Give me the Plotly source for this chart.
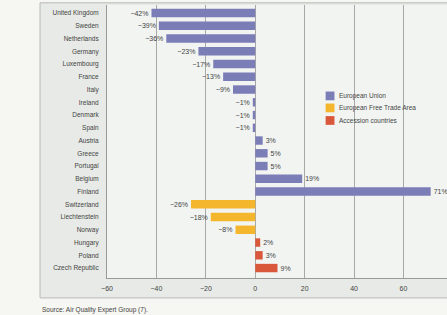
import plotly.graph_objects as go

categories = ["United Kingdom", "Sweden", "Netherlands", "Germany", "Luxembourg", "France",
              "Italy", "Ireland", "Denmark", "Spain", "Austria", "Greece", "Portugal",
              "Belgium", "Finland", "Switzerland", "Liechtenstein", "Norway", "Hungary",
              "Poland", "Czech Republic"]

eu_countries = categories[:15]
eu_values = [-42, -39, -36, -23, -17, -13, -9, -1, -1, -1, 3, 5, 5, 19, 71]
efta_countries = ["Switzerland", "Liechtenstein", "Norway"]
efta_values = [-26, -18, -8]
acc_countries = ["Hungary", "Poland", "Czech Republic"]
acc_values = [2, 3, 9]

x_ticks = [-60, -40, -20, 0, 20, 40, 60]

def lab(v):
    return ("\u2212%d%%" % abs(v)) if v < 0 else ("%d%%" % v)

fig = go.Figure()
series = [
    ("European Union", eu_countries, eu_values, "#7B7DB6"),
    ("European Free Trade Area", efta_countries, efta_values, "#F4B62C"),
    ("Accession countries", acc_countries, acc_values, "#D9573B"),
]
for name, cats, vals, col in series:
    fig.add_trace(go.Bar(
        y=cats, x=vals, orientation="h", name=name,
        marker=dict(color=col, line=dict(width=0)),
        width=0.66,
        text=[lab(v) for v in vals], textposition="outside",
        constraintext="none", cliponaxis=False,
        textfont=dict(size=7, color="#444", family="Liberation Sans"),
        showlegend=False,
    ))

fig.update_layout(
    width=447, height=315,
    margin=dict(l=107, r=0, t=5, b=37),
    paper_bgcolor="#F6F6F2",
    plot_bgcolor="#F2F4F2",
    barmode="overlay",
    font=dict(family="Liberation Sans", size=7, color="#444"),
    showlegend=False,
)
fig.update_xaxes(range=[-60, 77.6], tickvals=x_ticks, automargin=False,
                 ticktext=[("\u2212%d" % abs(t)) if t < 0 else str(t) for t in x_ticks],
                 showgrid=True, gridcolor="#A8A8A8", gridwidth=1,
                 zeroline=False, showline=True, linecolor="#999", linewidth=1,
                 ticks="", ticklabelstandoff=4, tickfont=dict(size=7, color="#444"))
fig.update_yaxes(categoryorder="array", categoryarray=categories, automargin=False,
                 range=[20.78, -0.63], showgrid=False, zeroline=False,
                 showline=True, linecolor="#999", linewidth=1,
                 ticks="", ticklabelstandoff=6, tickfont=dict(size=6.5, color="#444"))

fig.add_shape(type="rect", xref="paper", yref="paper",
              x0=-0.197, x1=1.05, y0=-0.073, y1=1.008,
              line=dict(color="#B8BBB8", width=1), fillcolor="#E7EAE6", layer="below")
fig.add_shape(type="rect", xref="paper", yref="paper",
              x0=0, x1=1, y0=0, y1=1,
              line=dict(width=0), fillcolor="#F2F4F2", layer="below")

# manual legend (compact spacing as in the reference)
leg_x = 0.643
leg_y = [0.667, 0.623, 0.577]
for (name, _, _, col), yy in zip(series, leg_y):
    fig.add_shape(type="rect", xref="paper", yref="paper",
                  x0=leg_x, x1=leg_x + 0.026, y0=yy - 0.016, y1=yy + 0.016,
                  line=dict(width=0), fillcolor=col)
    fig.add_annotation(text=name, xref="paper", yref="paper", x=leg_x + 0.034, y=yy,
                       xanchor="left", yanchor="middle", showarrow=False,
                       font=dict(size=6.5, color="#444"))

fig.add_annotation(text="Source: Air Quality Expert Group (7).", xref="paper", yref="paper",
                   x=-0.197, y=-0.095, xanchor="left", yanchor="top", showarrow=False,
                   font=dict(size=6.5, color="#444"))

fig.write_html("out.html", config={"displayModeBar": False},
               post_script="document.body.style.margin='0';document.body.style.padding='0';")
